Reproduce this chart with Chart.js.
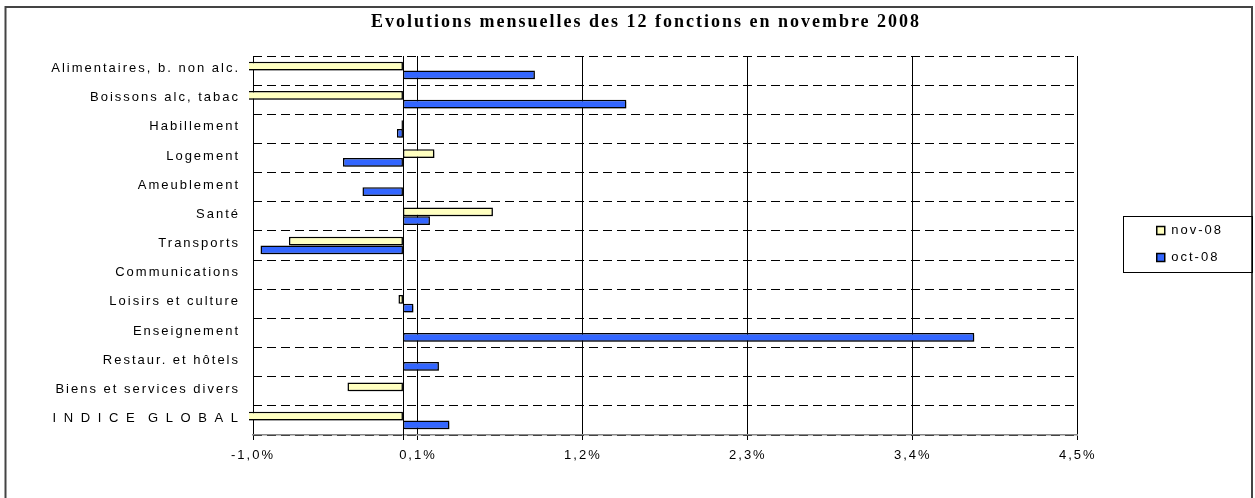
<!DOCTYPE html>
<html lang="fr">
<head>
<meta charset="utf-8">
<title>Evolutions mensuelles des 12 fonctions en novembre 2008</title>
<script src="https://cdn.jsdelivr.net/npm/chart.js@4.4.1/dist/chart.umd.min.js"></script>
<style>
  html, body { margin: 0; padding: 0; background: #fff; }
  canvas { display: block; }
</style>
</head>
<body>
<canvas id="graphique" width="1255" height="498"></canvas>
<script>
const titre = 'Evolutions mensuelles des 12 fonctions en novembre 2008';

const fonctions = [
    'Alimentaires, b. non alc.',
    'Boissons alc, tabac',
    'Habillement',
    'Logement',
    'Ameublement',
    'Santé',
    'Transports',
    'Communications',
    'Loisirs et culture',
    'Enseignement',
    'Restaur. et hôtels',
    'Biens et services divers',
    'I N D I C E  G L O B A L'
];

// évolutions en %
const nov08 = [-1.2, -1.2, -0.01, 0.21, 0, 0.60, -0.76, 0, -0.03, 0, 0, -0.37, -1.2];
const oct08 = [0.88, 1.49, -0.04, -0.40, -0.27, 0.18, -0.95, 0, 0.07, 3.81, 0.24, 0, 0.31];

const graduations = [-1.0, 0.1, 1.2, 2.3, 3.4, 4.5];

const police = '"Liberation Sans", Arial, sans-serif';

// texte un peu espacé comme dans l'original
const espacement = {
    id: 'espacement',
    beforeLayout(chart) {
        chart.ctx.letterSpacing = '2px';
    },
    afterLayout(chart) {
        // le titre est décalé vers la droite dans l'original
        chart.titleBlock.left += 27;
        chart.titleBlock.right += 27;
        // légende un peu plus haut
        chart.legend.top -= 5;
        chart.legend.bottom -= 5;
    },
    beforeDraw(chart) {
        const ctx = chart.ctx;
        ctx.letterSpacing = '2px';
        // cadre extérieur
        ctx.save();
        ctx.strokeStyle = '#444';
        ctx.lineWidth = 2;
        ctx.strokeRect(5.5, 7, 1246.5, 600);
        ctx.restore();
    }
};

// ligne du zéro + ombre des barres
const axeZero = {
    id: 'axeZero',
    beforeDatasetsDraw(chart) {
        const { ctx, chartArea, scales } = chart;
        const px = Math.round(scales.x.getPixelForValue(0)) + 0.5;
        ctx.save();
        ctx.strokeStyle = '#000';
        ctx.lineWidth = 1;
        ctx.beginPath();
        ctx.moveTo(px, chartArea.top);
        ctx.lineTo(px, chartArea.bottom + 5);
        ctx.stroke();
        ctx.restore();

        ctx.save();
        ctx.shadowColor = 'rgba(0, 0, 0, 0.3)';
        ctx.shadowOffsetX = 2;
        ctx.shadowOffsetY = 2;
        ctx.shadowBlur = 0;
    },
    afterDatasetsDraw(chart) {
        chart.ctx.restore();
    }
};

// cadre autour de la légende
const cadreLegende = {
    id: 'cadreLegende',
    afterDraw(chart) {
        const boxes = chart.legend.legendHitBoxes;
        if (!boxes || !boxes.length) return;
        const premier = boxes[0];
        const dernier = boxes[boxes.length - 1];
        const x1 = premier.left - 34;
        const y1 = premier.top + premier.height / 2 - 15;
        const y2 = dernier.top + dernier.height / 2 + 14;
        const ctx = chart.ctx;
        ctx.save();
        ctx.strokeStyle = '#000';
        ctx.lineWidth = 1;
        ctx.strokeRect(Math.round(x1) + 0.5, Math.round(y1) + 0.5, 1252 - Math.round(x1), Math.round(y2 - y1));
        ctx.restore();
    }
};

const ctx = document.getElementById('graphique').getContext('2d');
new Chart(ctx, {
    type: 'bar',
    data: {
        labels: fonctions,
        datasets: [
            {
                label: 'nov-08',
                data: nov08,
                backgroundColor: '#FFFFC0',
                borderColor: '#000',
                borderWidth: 1.5,
                borderSkipped: false,
                categoryPercentage: 0.6,
                barPercentage: 1,
                clip: { left: 4, top: 0, right: 0, bottom: 0 }
            },
            {
                label: 'oct-08',
                data: oct08,
                backgroundColor: '#3366FF',
                borderColor: '#000',
                borderWidth: 1.5,
                borderSkipped: false,
                categoryPercentage: 0.6,
                barPercentage: 1,
                clip: { left: 4, top: 0, right: 0, bottom: 0 }
            }
        ]
    },
    options: {
        indexAxis: 'y',
        responsive: false,
        animation: false,
        events: [],
        layout: {
            padding: { left: 5, right: 22, top: 0, bottom: 0 }
        },
        scales: {
            x: {
                min: -1.0,
                max: 4.5,
                afterBuildTicks(scale) {
                    scale.ticks = graduations.map(v => ({ value: v }));
                },
                ticks: {
                    color: '#000',
                    font: { family: police, size: 13 },
                    padding: 8,
                    maxRotation: 0,
                    autoSkip: false,
                    callback: v => v.toFixed(1).replace('.', ',') + '%'
                },
                grid: { color: '#000', lineWidth: 1, tickLength: 5, tickColor: '#000' },
                border: { color: '#888', width: 1.5 },
                afterFit(scale) { scale.height = 63; }
            },
            y: {
                ticks: {
                    color: '#000',
                    font: { family: police, size: 13 },
                    padding: 13,
                    labelOffset: -2,
                    autoSkip: false
                },
                grid: { color: '#000', lineWidth: 1, drawTicks: false },
                border: { display: false, dash: [9, 5] },
                afterFit(scale) { scale.width = 248; }
            },
            y2: {
                type: 'category',
                position: 'right',
                labels: fonctions,
                ticks: { display: false },
                grid: { display: false },
                border: { display: false },
                afterFit(scale) { scale.width = 65; }
            }
        },
        plugins: {
            title: {
                display: true,
                text: titre,
                color: '#000',
                font: { family: '"Liberation Serif", "Times New Roman", serif', size: 18, weight: 'bold' },
                padding: { top: 12, bottom: 22.4 }
            },
            legend: {
                position: 'right',
                labels: {
                    color: '#000',
                    font: { family: police, size: 13 },
                    boxWidth: 8,
                    boxHeight: 8,
                    padding: 14
                }
            },
            tooltip: { enabled: false }
        }
    },
    plugins: [espacement, axeZero, cadreLegende]
});
</script>
</body>
</html>
